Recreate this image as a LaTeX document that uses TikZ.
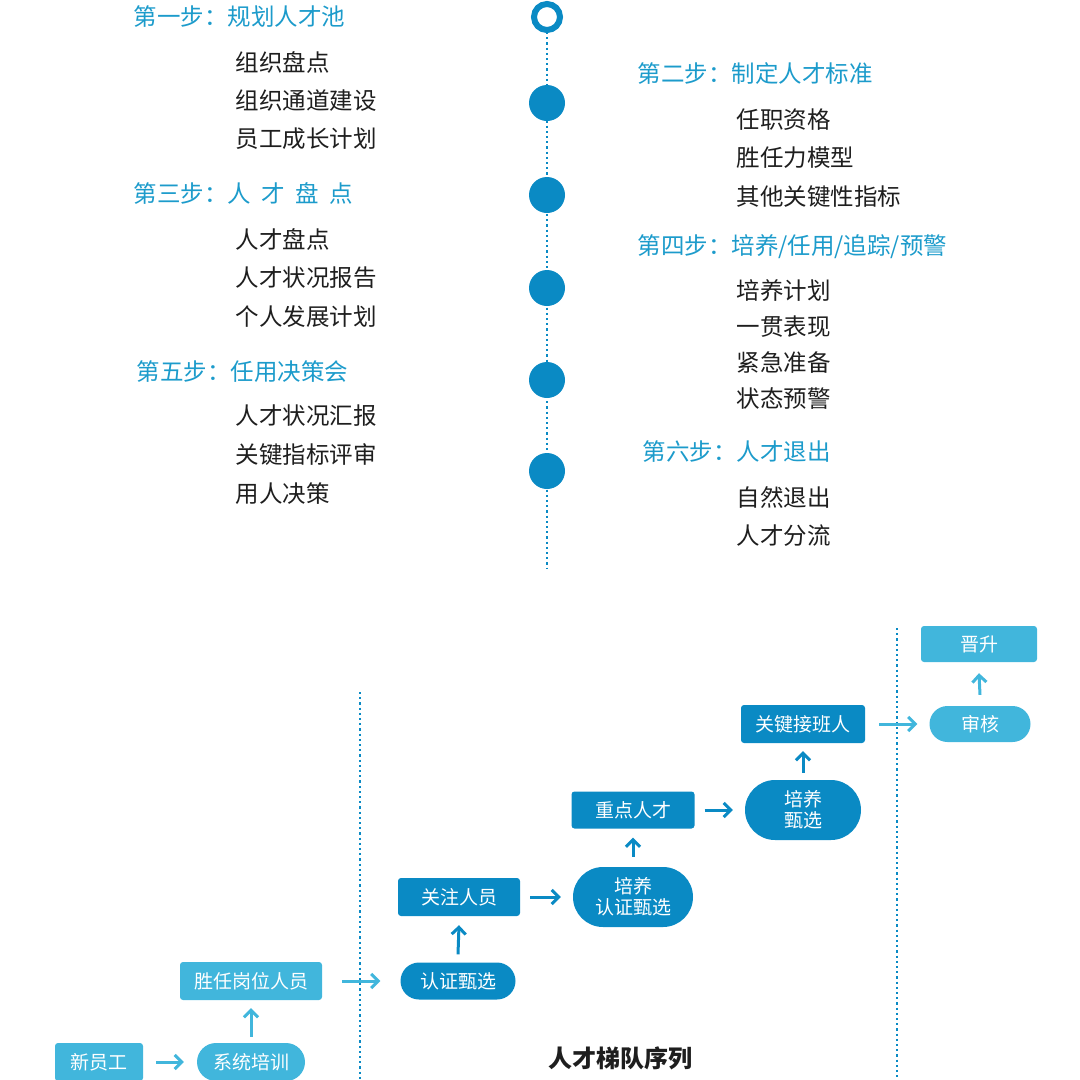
\documentclass[tikz,border=0pt]{standalone}
\usepackage{fontspec}
\setmainfont{Noto Sans CJK SC}
\usetikzlibrary{arrows.meta,shapes.misc}
\definecolor{lb}{HTML}{41B6DC}
\definecolor{db}{HTML}{0A8AC4}
\definecolor{tc}{HTML}{1C9BCB}
\definecolor{tx}{HTML}{1E1E1E}
\begin{document}
\begin{tikzpicture}[x=1pt,y=-1pt,
 title/.style={anchor=west,text=tc,font=\fontsize{23.5}{24}\selectfont},
 item/.style={anchor=west,text=tx,font=\fontsize{23.5}{24}\selectfont},
 dot/.style={circle,fill=db,minimum size=36pt,inner sep=0},
 vline/.style={db,line width=2.2pt,dash pattern=on 2.2pt off 3pt},
 box/.style={rectangle,rounded corners=3pt,text=white,font=\fontsize{19}{19}\selectfont,inner sep=0,align=center},
 pill/.style={rounded rectangle,text=white,font=\fontsize{19}{21}\selectfont,inner sep=0,align=center},
 arr/.style={line width=3pt,-{Straight Barb[length=7pt,width=14pt,line width=3pt]}}]
\useasboundingbox (0,0) rectangle (1080,1080);
% timeline
\draw[vline] (547,32) -- (547,568);
\node[circle,draw=db,line width=6pt,fill=white,minimum size=26pt,inner sep=0] (r0) at (547,17) {};
\foreach \y/\n in {103/d1,195/d2,288/d3,380/d4,471/d5}{\node[dot] (\n) at (547,\y) {};}
% left
\node[title] (t1) at (130,17) {第一步：规划人才池};
\node[item] (a1) at (232,62) {组织盘点};
\node[item] (a2) at (232,101) {组织通道建设};
\node[item] (a3) at (232,139) {员工成长计划};
\node[title] (t3) at (130,193) {第三步：人\hspace{0.45em}才\hspace{0.45em}盘\hspace{0.45em}点};
\node[item] (b1) at (232,239) {人才盘点};
\node[item] (b2) at (232,278) {人才状况报告};
\node[item] (b3) at (232,317) {个人发展计划};
\node[title] (t5) at (133,372) {第五步：任用决策会};
\node[item] (c1) at (232,416) {人才状况汇报};
\node[item] (c2) at (232,455) {关键指标评审};
\node[item] (c3) at (232,494) {用人决策};
% right
\node[title] (t2) at (634,74) {第二步：制定人才标准};
\node[item] (e1) at (733,120) {任职资格};
\node[item] (e2) at (733,158) {胜任力模型};
\node[item] (e3) at (733,197) {其他关键性指标};
\node[title] (t4) at (634,247) {第四步：培养/任用/追踪/预警};
\node[item] (f1) at (733,291) {培养计划};
\node[item] (f2) at (733,327) {一贯表现};
\node[item] (f3) at (733,363) {紧急准备};
\node[item] (f4) at (733,399) {状态预警};
\node[title] (t6) at (639,452) {第六步：人才退出};
\node[item] (g1) at (733,497) {自然退出};
\node[item] (g2) at (733,536) {人才分流};
% bottom separators
\draw[vline,line width=1.6pt] (360,692) -- (360,1080);
\draw[vline,line width=1.6pt] (897,628) -- (897,1080);
% nodes
\node[box,fill=lb,minimum width=88pt,minimum height=38pt] (n1) at (99,1062) {新员工};
\node[pill,fill=lb,minimum width=108pt,minimum height=38pt] (n2) at (251,1062) {系统培训};
\node[box,fill=lb,minimum width=142pt,minimum height=38pt] (n3) at (251,981) {胜任岗位人员};
\node[pill,fill=db,minimum width=115pt,minimum height=37pt] (n4) at (458,981) {认证甄选};
\node[box,fill=db,minimum width=122pt,minimum height=38pt] (n5) at (459,897) {关注人员};
\node[pill,fill=db,minimum width=120pt,minimum height=60pt] (n6) at (633,897) {培养\\认证甄选};
\node[box,fill=db,minimum width=123pt,minimum height=37pt] (n7) at (633,810) {重点人才};
\node[pill,fill=db,minimum width=116pt,minimum height=60pt] (n8) at (803,810) {培养\\甄选};
\node[box,fill=db,minimum width=124pt,minimum height=38pt] (n9) at (803,724) {关键接班人};
\node[pill,fill=lb,minimum width=101pt,minimum height=36pt] (n10) at (980,724) {审核};
\node[box,fill=lb,minimum width=116pt,minimum height=36pt] (n11) at (979,644) {晋升};
\node[font=\fontsize{24}{24}\selectfont\bfseries,text=tx] (ttl) at (620,1058) {人才梯队序列};
% arrows
\draw[arr,lb] ([xshift=13pt]n1.east) -- ([xshift=-13pt]n2.west);
\draw[arr,lb] ([yshift=6pt]n2.north) -- ([yshift=-8pt]n3.south);
\draw[arr,lb] ([xshift=20pt]n3.east) -- ([xshift=-20pt]n4.west);
\draw[arr,db] ([yshift=8pt]n4.north) -- ([yshift=-9pt]n5.south);
\draw[arr,db] ([xshift=10pt]n5.east) -- ([xshift=-12pt]n6.west);
\draw[arr,db] ([yshift=10pt]n6.north) -- ([yshift=-9pt]n7.south);
\draw[arr,db] ([xshift=10pt]n7.east) -- ([xshift=-12pt]n8.west);
\draw[arr,db] ([yshift=7pt]n8.north) -- ([yshift=-8pt]n9.south);
\draw[arr,lb] ([xshift=14pt]n9.east) -- ([xshift=-12pt]n10.west);
\draw[arr,lb] ([yshift=11pt]n10.north) -- ([yshift=-11pt]n11.south);
\end{tikzpicture}
\end{document}
